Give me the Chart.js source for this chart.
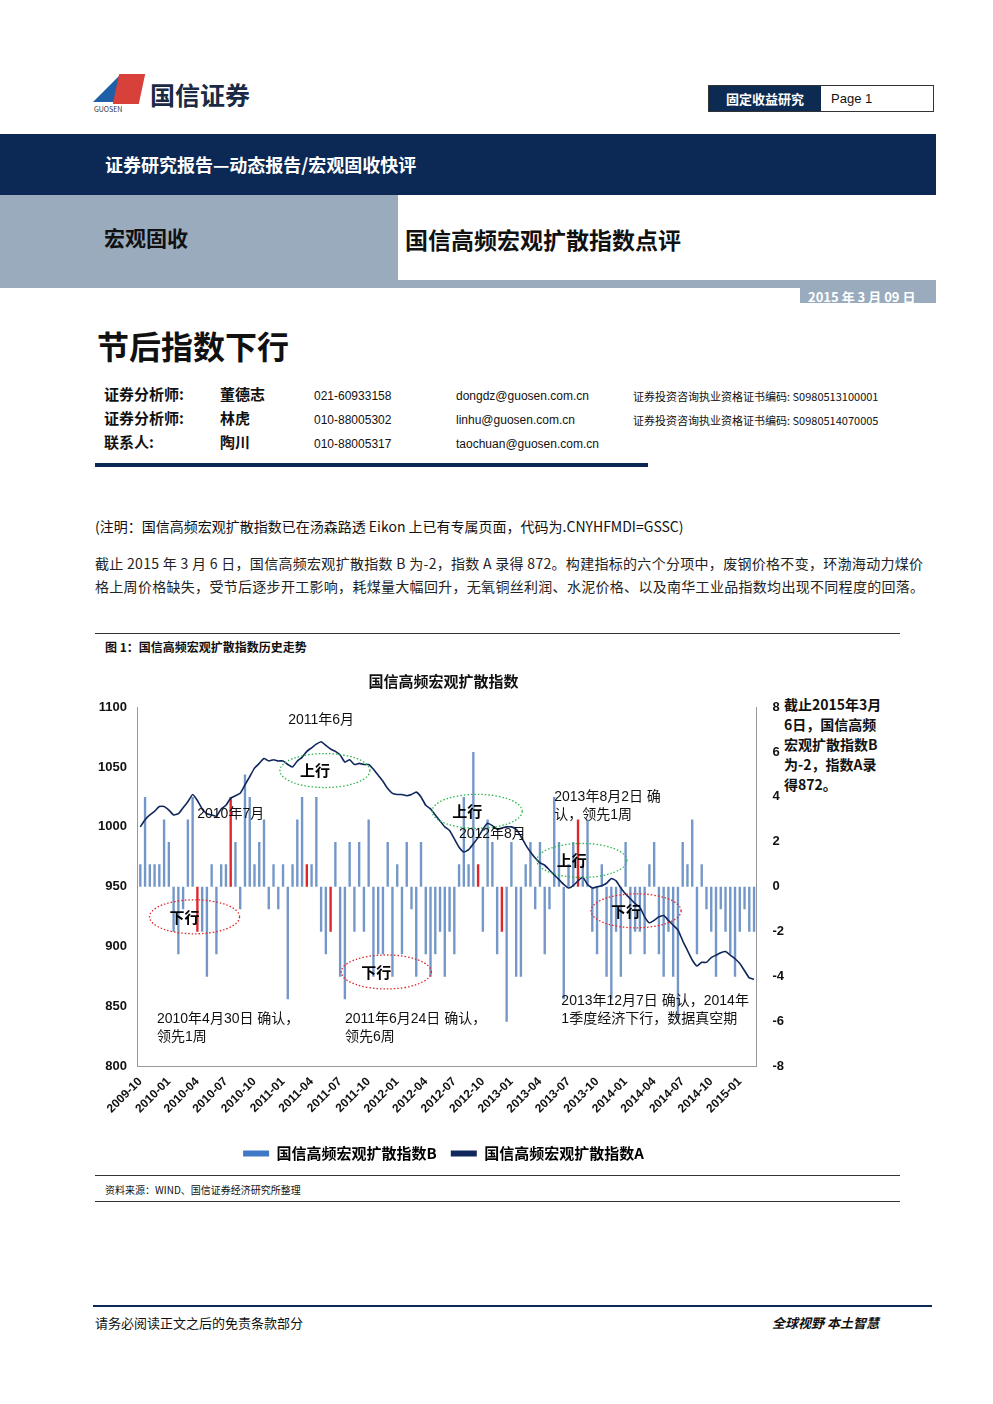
<!DOCTYPE html>
<html><head><meta charset="utf-8">
<script src="https://cdn.jsdelivr.net/npm/chart.js@4/dist/chart.umd.min.js"></script>
<style>
body{margin:0;width:993px;height:1404px;position:relative;background:#fff;font-family:"Noto Sans CJK SC","Liberation Sans",sans-serif;color:#111;}
.a{position:absolute;white-space:nowrap;}
.b{font-weight:bold;}
</style></head><body>
<!-- header -->
<div class="a" style="left:93px;top:76px;width:0;height:0;border-left:26px solid transparent;border-bottom:26px solid #1f5fa8;"></div>
<div class="a" style="left:116px;top:74px;width:26px;height:30px;background:#d8403a;transform:skewX(-12deg);"></div>
<div class="a" style="left:94px;top:104px;font-size:7px;color:#334;">GUOSEN</div>
<div class="a b" style="left:150px;top:76px;font-size:25px;color:#1a2a44;font-family:'Noto Sans CJK SC';">国信证券</div>
<div class="a" style="left:708px;top:85px;width:224px;height:25px;border:1px solid #333;"></div>
<div class="a b" style="left:709px;top:86px;width:112px;height:25px;background:#0d2a52;color:#fff;font-size:13px;line-height:25px;text-align:center;">固定收益研究</div>
<div class="a" style="left:831px;top:86px;font-size:13px;line-height:25px;font-family:'Liberation Sans';">Page 1</div>
<div class="a" style="left:0;top:134px;width:936px;height:61px;background:#0c2955;"></div>
<div class="a b" style="left:105px;top:151px;font-size:18px;color:#fff;">证券研究报告—动态报告/宏观固收快评</div>
<div class="a" style="left:0;top:195px;width:398px;height:85px;background:#9aabbe;"></div>
<div class="a b" style="left:104px;top:222px;font-size:21px;">宏观固收</div>
<div class="a b" style="left:405px;top:222px;font-size:23px;">国信高频宏观扩散指数点评</div>
<div class="a" style="left:0;top:280px;width:936px;height:8px;background:#9aabbe;"></div>
<div class="a" style="left:800px;top:288px;width:136px;height:15px;background:#9aabbe;"></div>
<div class="a b" style="left:808px;top:287px;font-size:13px;color:#fff;">2015 年 3 月 09 日</div>
<div class="a b" style="left:97px;top:322px;font-size:32px;">节后指数下行</div>
<div class="a b" style="left:104px;top:382px;font-size:15px;line-height:24px;">证券分析师:<br>证券分析师:<br>联系人:</div>
<div class="a b" style="left:220px;top:382px;font-size:15px;line-height:24px;">董德志<br>林虎<br>陶川</div>
<div class="a" style="left:314px;top:384px;font-size:12px;line-height:24px;font-family:'Liberation Sans';">021-60933158<br>010-88005302<br>010-88005317</div>
<div class="a" style="left:456px;top:384px;font-size:12px;line-height:24px;font-family:'Liberation Sans';">dongdz@guosen.com.cn<br>linhu@guosen.com.cn<br>taochuan@guosen.com.cn</div>
<div class="a" style="left:633px;top:384px;font-size:11px;line-height:24px;">证券投资咨询执业资格证书编码: S0980513100001<br>证券投资咨询执业资格证书编码: S0980514070005</div>
<div class="a" style="left:95px;top:463px;width:553px;height:4px;background:#0c2955;"></div>
<div class="a" style="left:95px;top:516px;font-size:14px;">(注明：国信高频宏观扩散指数已在汤森路透 Eikon 上已有专属页面，代码为.CNYHFMDI=GSSC)</div>
<div class="a" style="left:95px;top:552px;width:840px;font-size:14px;line-height:23px;white-space:normal;color:#222;letter-spacing:0.3px;">截止 2015 年 3 月 6 日，国信高频宏观扩散指数 B 为-2，指数 A 录得 872。构建指标的六个分项中，废钢价格不变，环渤海动力煤价格上周价格缺失，受节后逐步开工影响，耗煤量大幅回升，无氧铜丝利润、水泥价格、以及南华工业品指数均出现不同程度的回落。</div>
<div class="a" style="left:95px;top:633px;width:805px;height:1px;background:#333;"></div>
<div class="a b" style="left:105px;top:638px;font-size:12px;">图 1：国信高频宏观扩散指数历史走势</div>
<div class="a" style="left:95px;top:1175px;width:805px;height:1px;background:#333;"></div>
<div class="a" style="left:105px;top:1182px;font-size:10px;">资料来源：WIND、国信证券经济研究所整理</div>
<div class="a" style="left:95px;top:1201px;width:805px;height:1px;background:#333;"></div>
<div class="a" style="left:93px;top:1305px;width:839px;height:2px;background:#0c2955;"></div>
<div class="a" style="left:95px;top:1313px;font-size:13px;">请务必阅读正文之后的免责条款部分</div>
<div class="a b" style="left:772px;top:1313px;font-size:13px;font-style:italic;">全球视野 本土智慧</div>
<div class="a b" style="left:784px;top:694px;font-size:14px;line-height:20px;width:100px;white-space:normal;">截止2015年3月6日，国信高频宏观扩散指数B为-2，指数A录得872。</div>
<div style="position:absolute;left:95px;top:666px;width:697px;height:505px;"><canvas id="c"></canvas></div>
<script>
const months = [];
for (let y = 2009; y <= 2015; y++) for (let m = 1; m <= 12; m++) {
  if ((y === 2009 && m < 10) || (y === 2015 && m > 2)) continue;
  const mm = y + '-' + String(m).padStart(2, '0');
  months.push(mm + 'a', mm + 'b');
}
// 指数A (左轴), two readings per month
const indexA = [
  1000,1006, 1010,1013, 1017,1017, 1014,1010, 1011,1016, 1021,1027, 1022,1015, 1011,1010, 1009,1015,
  1018,1024, 1026,1028, 1035,1042, 1049,1053, 1057,1055, 1056,1055, 1055,1052, 1050,1055, 1058,1063,
  1066,1069, 1071,1068, 1065,1063, 1060,1054, 1056,1052, 1053,1052, 1052,1048, 1043,1038, 1032,1028,
  1027,1027, 1026,1027, 1029,1025, 1018,1015, 1010,1005, 1000,997, 990,983, 979,981, 986,991,
  998,1003, 1001,998, 999,1000, 1000,998, 992,985, 979,974, 970,968, 964,960, 956,952, 949,951,
  955,958, 952,949, 950,951, 953,957, 955,949, 944,940, 936,933, 925,920, 922,925, 926,922,
  918,914, 905,897, 889,884, 887,887, 891,893, 895,896, 893,890, 886,880, 874,873
];
// 指数B (右轴)
const indexB = [
  1,4, 1,1, 1,3, 2,-2, -3,-1, 3,4, -2,-2, -4,1, -3,1,
  1,4, 2,-1, 5,4, 1,2, 3,-1, 1,-1, 1,-5, 1,3, 4,1,
  1,4, -2,-3, -2,2, -4,-5, 2,-2, 2,-2, 3,-4, -3,-3, 2,-4,
  1,-3, 2,-1, -4,2, -3,-4, -3,-2, -4,-2, -3,1, 4,1, 6,1,
  -2,3, 2,-3, -2,-6, 2,-4, -4,1, 2,-1, 2,-3, -1,4, 2,-5, 1,2,
  3,1, 3,-2, -3,1, -4,-5, -2,-4, 2,-3, -2,-2, -3,1, 2,-3, -4,-2,
  -4,-6, 2,1, 3,-3, 1,-1, -2,-4, -1,-2, -3,-4, -2,-1, -2,-2
];
const redIdx = [12, 19, 35, 40, 71, 76, 92];
const tickMonths = ['2009-10','2010-01','2010-04','2010-07','2010-10','2011-01','2011-04','2011-07','2011-10',
  '2012-01','2012-04','2012-07','2012-10','2013-01','2013-04','2013-07','2013-10','2014-01','2014-04','2014-07','2014-10','2015-01'];

const notes = [
  [38, 1089, '2011年6月'], [19, 1011, '2010年7月'], [74, 994, '2012年8月'],
  [87, 1025, '2013年8月2日 确', 'l'], [87, 1010, '认，领先1周', 'l'],
  [3.5, 840, '2010年4月30日 确认，', 'l'], [3.5, 825, '领先1周', 'l'],
  [43, 840, '2011年6月24日 确认，', 'l'], [43, 825, '领先6周', 'l'],
  [88.5, 855, '2013年12月7日 确认，2014年', 'l'], [88.5, 840, '1季度经济下行，数据真空期', 'l']
];
const rings = [
  [38.8, 1047, '上行', '#2db84c'], [70.8, 1013, '上行', '#2db84c'], [92.8, 972, '上行', '#2db84c'],
  [11.4, 925, '下行', '#e0262b'], [51.7, 879, '下行', '#e0262b'], [104.2, 930, '下行', '#e0262b']
];

const notePlugin = {
  id: 'notes',
  afterDatasetsDraw(chart) {
    const c = chart.ctx, x = chart.scales.x, y = chart.scales.y;
    c.save();
    rings.forEach(r => {
      const px = x.getPixelForValue(r[0]), py = y.getPixelForValue(r[1]);
      c.beginPath(); c.setLineDash([1.5, 2]); c.strokeStyle = r[3]; c.lineWidth = 1.3;
      c.ellipse(px, py, 45, 17, 0, 0, Math.PI * 2); c.stroke();
      c.setLineDash([]); c.fillStyle = '#000'; c.font = 'bold 15px "Noto Sans CJK SC"';
      c.textAlign = 'center'; c.textBaseline = 'middle'; c.fillText(r[2], px - 10, py);
    });
    c.font = '14px "Liberation Sans","Noto Sans CJK SC"'; c.fillStyle = '#111';
    notes.forEach(n => {
      c.textAlign = n[3] === 'l' ? 'left' : 'center';
      c.fillText(n[2], x.getPixelForValue(n[0]), y.getPixelForValue(n[1]));
    });
    c.restore();
  }
};

const tickFont = { size: 13, weight: 'bold', family: 'Liberation Sans' };

new Chart(document.getElementById('c'), {
  data: {
    labels: months,
    datasets: [
      {
        type: 'line', label: '国信高频宏观扩散指数A', data: indexA, yAxisID: 'y',
        borderColor: '#10275e', borderWidth: 1.6, pointRadius: 0, tension: 0.15, order: 0
      },
      {
        type: 'bar', label: '国信高频宏观扩散指数B', data: indexB, yAxisID: 'y1',
        backgroundColor: indexB.map((v, i) => redIdx.includes(i) ? '#e0262b' : '#7397c8'),
        barPercentage: 0.5, categoryPercentage: 1, order: 1
      }
    ]
  },
  options: {
    animation: false, responsive: true, maintainAspectRatio: false,
    plugins: {
      title: { display: true, text: '国信高频宏观扩散指数', color: '#111',
        font: { size: 15, weight: 'bold', family: 'Noto Sans CJK SC' }, padding: { top: 6, bottom: 17 } },
      legend: {
        position: 'bottom',
        labels: { color: '#111', font: { size: 15, weight: 'bold', family: 'Noto Sans CJK SC' },
          boxWidth: 26, boxHeight: 6, padding: 14,
          generateLabels: ch => [
            { text: '国信高频宏观扩散指数B', fillStyle: '#3f78c6', strokeStyle: '#3f78c6', lineWidth: 0, datasetIndex: 1 },
            { text: '国信高频宏观扩散指数A', fillStyle: '#10275e', strokeStyle: '#10275e', lineWidth: 0, datasetIndex: 0 }
          ] }
      },
      tooltip: { enabled: false }
    },
    scales: {
      x: {
        grid: { display: false, tickLength: 5 },
        border: { color: '#999' },
        afterFit: s => { s.height += 13; },
        ticks: {
          autoSkip: false, maxRotation: 45, minRotation: 45, color: '#111',
          font: { size: 12, weight: 'bold', family: 'Liberation Sans' },
          callback: function (v) {
            const l = months[v];
            return l.endsWith('a') && tickMonths.includes(l.slice(0, 7)) ? l.slice(0, 7) : null;
          }
        }
      },
      y: {
        min: 800, max: 1100, position: 'left',
        grid: { display: false }, border: { color: '#999' },
        ticks: { stepSize: 50, color: '#111', font: tickFont, callback: v => String(v) }
      },
      y1: {
        min: -8, max: 8, position: 'right',
        grid: { display: false }, border: { color: '#999' },
        ticks: { stepSize: 2, color: '#111', font: tickFont, padding: 8 }
      }
    }
  },
  plugins: [notePlugin]
});
</script>
</body></html>
